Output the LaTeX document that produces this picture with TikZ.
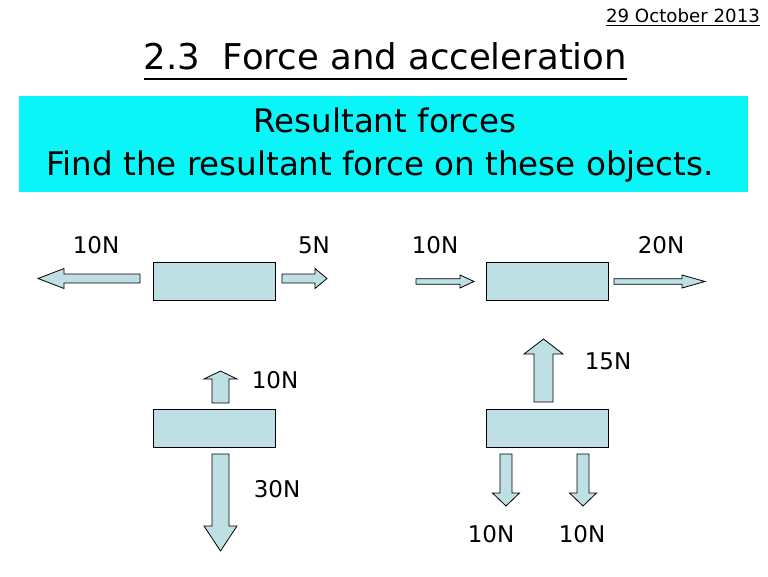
\documentclass[tikz,border=0pt]{standalone}
\usepackage{fontspec}
\setmainfont{DejaVu Sans}
\definecolor{bandcyan}{RGB}{10,245,248}
\definecolor{objfill}{RGB}{190,224,228}
\newcommand{\harrowshape}[7]{% name, tail, headbase, tip, yc, shaft half, head half
  \draw[forcearrow] (#2,#5-#6) -- (#3,#5-#6) -- (#3,#5-#7) -- (#4,#5) -- (#3,#5+#7) -- (#3,#5+#6) -- (#2,#5+#6) -- cycle;}
\newcommand{\varrowshape}[7]{% name, xc, tail, headbase, tip, shaft half, head half
  \draw[forcearrow] (#2-#6,#3) -- (#2-#6,#4) -- (#2-#7,#4) -- (#2,#5) -- (#2+#7,#4) -- (#2+#6,#4) -- (#2+#6,#3) -- cycle;}
\begin{document}
\begin{tikzpicture}[x=1pt,y=-1pt,
  obj/.style={draw=black, line width=0.9pt, fill=objfill, rectangle, inner sep=0pt, minimum width=122pt, minimum height=38pt},
  forcearrow/.style={draw=black, line width=0.8pt, fill=objfill, line join=miter},
  lbl/.style={anchor=base, inner sep=0pt, font=\fontsize{23}{26}\selectfont},
  txt/.style={anchor=base, inner sep=0pt}]
\useasboundingbox (0,0) rectangle (768,576);
\fill[white] (0,0) rectangle (768,576);

% date
\node[txt, font=\fontsize{18.2}{20}\selectfont] (date) at (683,22) {29 October 2013};
\draw[line width=0.9pt] ([yshift=-3.5pt]date.base west) -- ([yshift=-3.5pt]date.base east);

% title
\node[txt, font=\fontsize{35.5}{40}\selectfont] (title) at (385.5,69) {2.3\ \ Force and acceleration};
\draw[line width=2pt] ([yshift=-10pt]title.base west) -- ([yshift=-10pt]title.base east);

% cyan band
\node[rectangle, fill=bandcyan, inner sep=0pt, minimum width=729pt, minimum height=96pt] (band) at (383.5,144) {};
\node[txt, font=\fontsize{32.5}{36}\selectfont] (sub1) at (385,132) {Resultant forces};
\node[txt, font=\fontsize{32.5}{36}\selectfont] (sub2) at (380,175) {Find the resultant force on these objects.};

% objects
\node[obj] (b1) at (214,281) {};
\node[obj] (b2) at (547,281) {};
\node[obj] (b3) at (214.5,428.5) {};
\node[obj] (b4) at (547,428.5) {};

% top-left arrows
\harrowshape{a1}{140}{64}{38}{278.5}{4.5}{10}
\harrowshape{a2}{282}{315}{327}{278.5}{4.5}{10}
% top-right arrows
\harrowshape{a3}{416}{460}{474}{281.5}{2.8}{6.5}
\harrowshape{a4}{614}{682}{705}{281.5}{2.8}{6.5}
% bottom-left arrows
\varrowshape{a5}{220.5}{403}{379}{371}{8.5}{16.5}
\varrowshape{a6}{220.5}{454}{526}{551}{8.5}{16.5}
% bottom-right arrows
\varrowshape{a7}{543.5}{402}{354}{339}{9.5}{19.5}
\varrowshape{a8}{506}{454}{493}{506}{6}{13.5}
\varrowshape{a9}{583}{454}{493}{506}{6}{13.5}

% labels
\node[lbl] (l1) at (96,253) {10N};
\node[lbl] (l2) at (314,253) {5N};
\node[lbl] (l3) at (435,253) {10N};
\node[lbl] (l4) at (661,253) {20N};
\node[lbl] (l5) at (275,388) {10N};
\node[lbl] (l6) at (277,497) {30N};
\node[lbl] (l7) at (608,369) {15N};
\node[lbl] (l8) at (491,542) {10N};
\node[lbl] (l9) at (582,542) {10N};
\end{tikzpicture}
\end{document}
